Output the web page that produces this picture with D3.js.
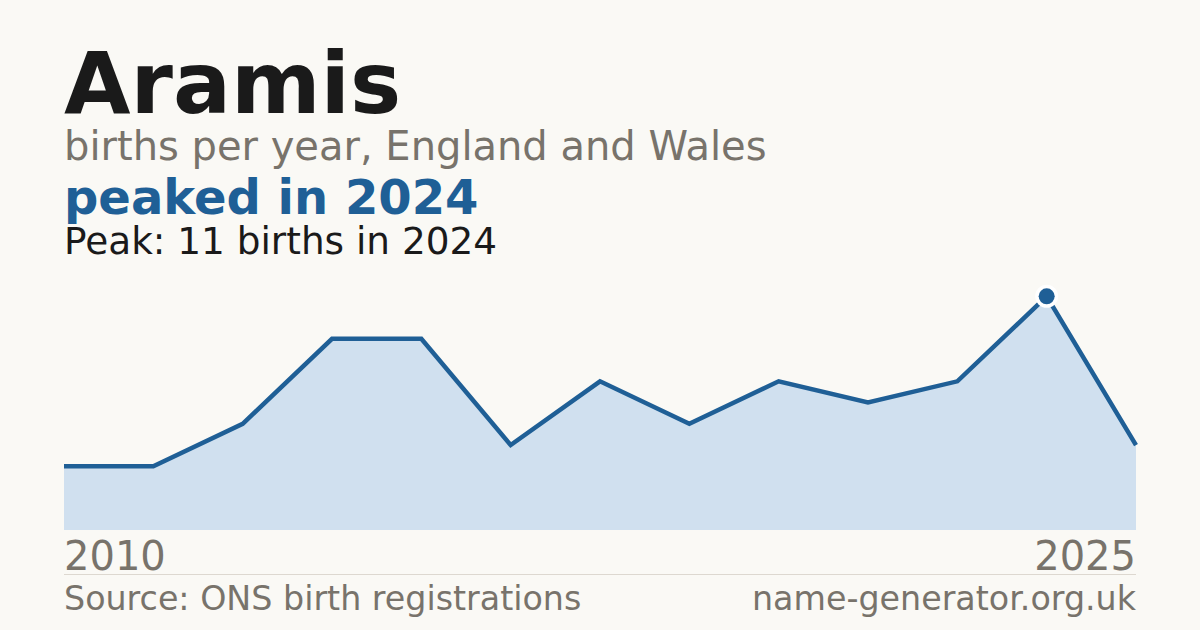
<!DOCTYPE html>
<html>
<head>
<meta charset="utf-8">
<script src="https://cdn.jsdelivr.net/npm/d3@7"></script>
<style>
  html, body { margin: 0; padding: 0; background: #faf9f5; }
  svg { display: block; font-family: "DejaVu Sans", sans-serif; }
</style>
</head>
<body>
<div id="vis"></div>
<script>
const name = "Aramis";
const subtitle = "births per year, England and Wales";
const years = ["2010", "2011", "2012", "2013", "2015", "2016", "2017", "2018", "2019", "2021", "2022", "2024", "2025"];
const births = [3, 3, 5, 9, 9, 4, 7, 5, 7, 6, 7, 11, 4];
const source = "Source: ONS birth registrations";
const site = "name-generator.org.uk";

const W = 1200, H = 630;
const plot = { left: 64, right: 1136, top: 273, bottom: 530 };

const svg = d3.select("#vis")
  .append("svg")
    .attr("width", W)
    .attr("height", H);

svg.append("rect")
    .attr("width", W)
    .attr("height", H)
    .attr("fill", "#faf9f5");

const peakIdx = births.indexOf(d3.max(births));
const peakYear = years[peakIdx];
const peakVal = births[peakIdx];

// header text
svg.append("text")
    .attr("x", 64).attr("y", 113)
    .attr("font-size", 86).attr("font-weight", "bold")
    .attr("fill", "#1a1a1a")
    .text(name);

svg.append("text")
    .attr("x", 64).attr("y", 160)
    .attr("font-size", 40)
    .attr("fill", "#78736b")
    .text(subtitle);

svg.append("text")
    .attr("x", 64).attr("y", 214)
    .attr("font-size", 48).attr("font-weight", "bold")
    .attr("fill", "#1f5f96")
    .text(`peaked in ${peakYear}`);

svg.append("text")
    .attr("x", 64).attr("y", 254)
    .attr("font-size", 37.4)
    .attr("fill", "#1a1a1a")
    .text(`Peak: ${peakVal} births in ${peakYear}`);

// scales
const x = d3.scalePoint()
    .domain(years)
    .range([plot.left, plot.right]);

const y = d3.scaleLinear()
    .domain([0, d3.max(births) * 1.1])
    .range([plot.bottom, plot.top]);

const data = years.map((yr, i) => ({ year: yr, value: births[i] }));

const area = d3.area()
    .x(d => x(d.year))
    .y0(y(0))
    .y1(d => y(d.value));

const line = d3.line()
    .x(d => x(d.year))
    .y(d => y(d.value));

svg.append("path")
    .datum(data)
    .attr("d", area)
    .attr("fill", "#d0e0ef");

svg.append("path")
    .datum(data)
    .attr("d", line)
    .attr("fill", "none")
    .attr("stroke", "#1f5f96")
    .attr("stroke-width", 4.5);

// peak marker: white halo then dot
svg.append("circle")
    .attr("cx", x(peakYear))
    .attr("cy", y(peakVal))
    .attr("r", 11.5)
    .attr("fill", "#ffffff");

svg.append("circle")
    .attr("cx", x(peakYear))
    .attr("cy", y(peakVal))
    .attr("r", 8)
    .attr("fill", "#1f5f96");

// year labels
svg.append("text")
    .attr("x", plot.left).attr("y", 570)
    .attr("font-size", 40)
    .attr("fill", "#78736b")
    .text(years[0]);

svg.append("text")
    .attr("x", plot.right).attr("y", 570)
    .attr("text-anchor", "end")
    .attr("font-size", 40)
    .attr("fill", "#78736b")
    .text(years[years.length - 1]);

// divider and footer
svg.append("line")
    .attr("x1", plot.left).attr("x2", plot.right)
    .attr("y1", 574.5).attr("y2", 574.5)
    .attr("stroke", "#ddd8d0")
    .attr("stroke-width", 1);

svg.append("text")
    .attr("x", plot.left).attr("y", 610)
    .attr("font-size", 33.3)
    .attr("fill", "#78736b")
    .text(source);

svg.append("text")
    .attr("x", plot.right).attr("y", 610)
    .attr("text-anchor", "end")
    .attr("font-size", 33.3)
    .attr("fill", "#78736b")
    .text(site);
</script>
</body>
</html>
